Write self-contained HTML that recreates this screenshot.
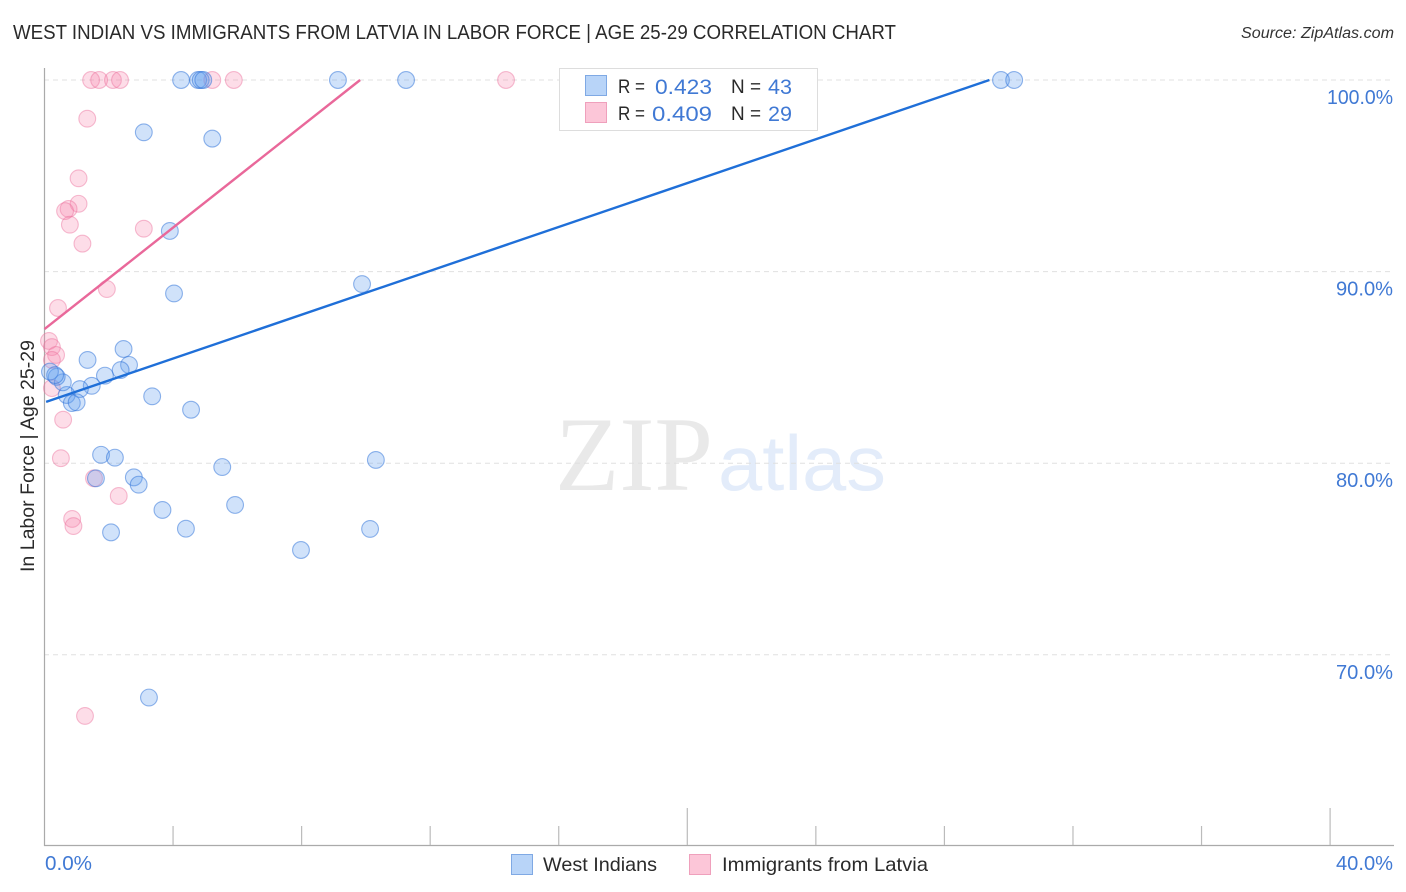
<!DOCTYPE html>
<html lang="en">
<head>
<meta charset="utf-8">
<title>West Indian vs Immigrants from Latvia in Labor Force | Age 25-29 Correlation Chart</title>
<style>
html,body{margin:0;padding:0;background:#fff;width:1406px;height:892px;overflow:hidden}
svg{display:block;font-family:"Liberation Sans",sans-serif}
</style>
</head>
<body>
<svg id="chart" width="1406" height="892" viewBox="0 0 1406 892" xmlns="http://www.w3.org/2000/svg">
  <text x="13" y="39" font-size="20" fill="#2a2a2a" textLength="883" lengthAdjust="spacingAndGlyphs">WEST INDIAN VS IMMIGRANTS FROM LATVIA IN LABOR FORCE | AGE 25-29 CORRELATION CHART</text>
  <text x="1241" y="38" font-size="15.5" font-style="italic" fill="#333" textLength="153" lengthAdjust="spacingAndGlyphs">Source: ZipAtlas.com</text>
  <g>
    <text x="555" y="490" font-family="'Liberation Serif',serif" font-size="106" fill="#e9e9e9" textLength="158" lengthAdjust="spacingAndGlyphs">ZIP</text>
    <text x="718" y="490" font-size="78" fill="#e3ecfa" textLength="168" lengthAdjust="spacingAndGlyphs">atlas</text>
  </g>
  <g id="grid"></g>
  <g id="axes"></g>
  <g id="pts"></g>
  <g id="trends"></g>
  <g id="labels"></g>
  <text transform="translate(34,572) rotate(-90)" font-size="19" fill="#2a2a2a" textLength="232" lengthAdjust="spacingAndGlyphs">In Labor Force | Age 25-29</text>

  <g>
    <rect x="559.5" y="68.5" width="258" height="62" fill="#fff" stroke="#ddd" stroke-width="1"/>
    <rect x="585.5" y="75.5" width="21" height="20" fill="#b8d4f8" stroke="#7fa9e4"/>
    <rect x="585.5" y="102.5" width="21" height="20" fill="#fcc6d8" stroke="#efa0bc"/>
    <text x="618" y="93" font-size="19.5" fill="#2a2a2a" textLength="27" lengthAdjust="spacingAndGlyphs">R =</text>
    <text x="655" y="94" font-size="21" fill="#4079d4" textLength="57" lengthAdjust="spacingAndGlyphs">0.423</text>
    <text x="731" y="93" font-size="19.5" fill="#2a2a2a" textLength="30" lengthAdjust="spacingAndGlyphs">N =</text>
    <text x="768" y="94" font-size="21" fill="#4079d4" textLength="24" lengthAdjust="spacingAndGlyphs">43</text>
    <text x="618" y="120" font-size="19.5" fill="#2a2a2a" textLength="27" lengthAdjust="spacingAndGlyphs">R =</text>
    <text x="652" y="121" font-size="21" fill="#4079d4" textLength="60" lengthAdjust="spacingAndGlyphs">0.409</text>
    <text x="731" y="120" font-size="19.5" fill="#2a2a2a" textLength="30" lengthAdjust="spacingAndGlyphs">N =</text>
    <text x="768" y="121" font-size="21" fill="#4079d4" textLength="24" lengthAdjust="spacingAndGlyphs">29</text>
  </g>

  <g>
    <rect x="511.5" y="854.5" width="21" height="20" fill="#b8d4f8" stroke="#7fa9e4"/>
    <text x="543" y="871" font-size="19.5" fill="#2a2a2a" textLength="114" lengthAdjust="spacingAndGlyphs">West Indians</text>
    <rect x="689.5" y="854.5" width="21" height="20" fill="#fcc6d8" stroke="#efa0bc"/>
    <text x="722" y="871" font-size="19.5" fill="#2a2a2a" textLength="206" lengthAdjust="spacingAndGlyphs">Immigrants from Latvia</text>
  </g>
</svg>
<script>
const yTickValues = [100, 90, 80, 70];
const yTickLabels = ["100.0%", "90.0%", "80.0%", "70.0%"];
const xTickValues = [0, 4, 8, 12, 16, 20, 24, 28, 32, 36, 40];
const xEndLabels = ["0.0%", "40.0%"];

const westIndiansX = [4.25,4.78,4.86,4.94,9.13,11.25,29.76,30.17,3.09,5.22,3.90,9.88,4.03,2.46,1.34,2.63,2.37,1.88,1.47,1.10,3.35,4.56,0.69,0.85,1.00,0.57,0.38,0.17,0.33,1.76,2.19,5.53,10.31,1.60,2.78,2.93,3.67,5.93,2.07,4.40,10.13,7.98,3.25];
const westIndiansY = [100,100,100,100,100,100,100,100,97.27,96.94,92.12,89.35,88.86,85.96,85.39,85.13,84.86,84.57,84.04,83.87,83.49,82.79,83.56,83.14,83.18,84.22,84.51,84.78,84.60,80.44,80.29,79.80,80.17,79.21,79.26,78.88,77.56,77.82,76.39,76.58,76.57,75.47,67.77];

const latviaX = [1.45,1.70,2.13,2.35,5.22,5.89,14.36,1.33,1.06,1.06,0.75,0.64,0.79,1.18,3.09,1.94,0.42,0.14,0.23,0.36,0.23,0.23,0.58,0.51,1.54,2.31,0.86,0.90,1.26];
const latviaY = [100,100,100,100,100,100,100,97.98,94.87,93.54,93.27,93.16,92.45,91.46,92.24,89.09,88.10,86.38,86.06,85.65,85.39,83.92,82.27,80.26,79.21,78.29,77.09,76.72,66.81];

const westIndiansTrendX = [0.05, 29.4];
const westIndiansTrendY = [83.2, 100];
const latviaTrendX = [0, 9.82];
const latviaTrendY = [87.0, 100];

const NS = "http://www.w3.org/2000/svg";
function xScale(v){ return 44.5 + v * 32.14; }
function yScale(v){ return 80 + (100 - v) * 19.16; }
function make(tag, parent, attrs){
  const el = document.createElementNS(NS, tag);
  for (const k in attrs) el.setAttribute(k, attrs[k]);
  parent.appendChild(el);
  return el;
}

const grid = document.getElementById("grid");
const axes = document.getElementById("axes");
const pts = document.getElementById("pts");
const trends = document.getElementById("trends");
const labels = document.getElementById("labels");

yTickValues.forEach(function(v, i){
  const y = yScale(v);
  const g = make("line", grid, {x1:44, x2:1394, y1:y, y2:y, stroke:"#e0e0e0", "stroke-width":1, "stroke-dasharray":"5 4"});
  
  
  const s = yTickLabels[i];
  const t = make("text", labels, {x:1393, y:y+24, "font-size":20, fill:"#4079d4", "text-anchor":"end", textLength:s.length > 5 ? 66 : 57, lengthAdjust:"spacingAndGlyphs"});
  t.textContent = s;
  
  
});

const axisY = make("line", axes, {x1:44.5, x2:44.5, y1:68, y2:846, stroke:"#aaa", "stroke-width":1.2});


const axisX = make("line", axes, {x1:44, x2:1394, y1:845.5, y2:845.5, stroke:"#aaa", "stroke-width":1.2});



xTickValues.forEach(function(v, i){
  if (i === 0) return;
  const x = xScale(v);
  const major = (i % 5 === 0);
  const tk = make("line", axes, {x1:x, x2:x, y1: major ? 808 : 826, y2:845, stroke:"#bbb", "stroke-width":1.2});
  
  
});

const xl0 = make("text", labels, {x:45, y:870, "font-size":20, fill:"#4079d4", textLength:47, lengthAdjust:"spacingAndGlyphs"});
xl0.textContent = xEndLabels[0];


const xl1 = make("text", labels, {x:1336, y:870, "font-size":20, fill:"#4079d4", textLength:57, lengthAdjust:"spacingAndGlyphs"});
xl1.textContent = xEndLabels[1];



latviaX.forEach(function(v, i){
  const c = make("circle", pts, {cx:xScale(v), cy:yScale(latviaY[i]), r:8.4, fill:"rgba(246,130,170,0.27)", stroke:"rgba(235,110,155,0.45)", "stroke-width":1.1});
  
  
});
westIndiansX.forEach(function(v, i){
  const c = make("circle", pts, {cx:xScale(v), cy:yScale(westIndiansY[i]), r:8.4, fill:"rgba(100,160,240,0.3)", stroke:"rgba(40,110,215,0.5)", "stroke-width":1.1});
  
  
});

const tb = make("line", trends, {x1:xScale(westIndiansTrendX[0]), y1:yScale(westIndiansTrendY[0]), x2:xScale(westIndiansTrendX[1]), y2:yScale(westIndiansTrendY[1]), stroke:"#1f6fd8", "stroke-width":2.4});


const tp = make("line", trends, {x1:xScale(latviaTrendX[0]), y1:yScale(latviaTrendY[0]), x2:xScale(latviaTrendX[1]), y2:yScale(latviaTrendY[1]), stroke:"#e9689a", "stroke-width":2.4});


</script>
</body>
</html>
